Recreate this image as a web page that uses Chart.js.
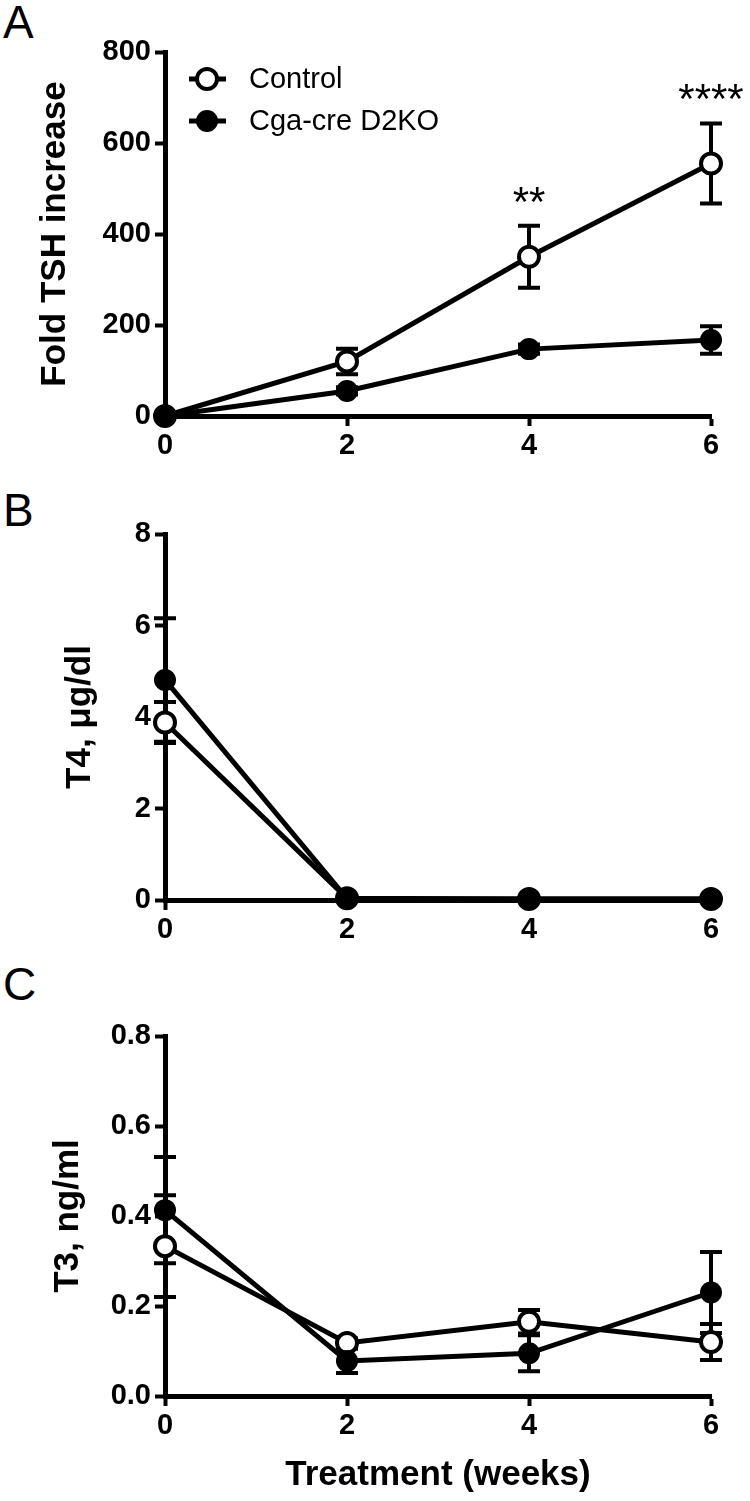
<!DOCTYPE html>
<html>
<head>
<meta charset="utf-8">
<script src="https://cdn.jsdelivr.net/npm/chart.js@4.4.1/dist/chart.umd.min.js"></script>
<style>
  body { margin: 0; background: #fff; width: 750px; height: 1501px; position: relative; overflow: hidden; font-family: 'Liberation Sans', Arial, sans-serif; }
  canvas { position: absolute; left: 0; }
  .panel { position: absolute; left: 3px; font-size: 46px; line-height: 1; color: #000; }
</style>
</head>
<body>
<div class="panel" style="top:-1px">A</div>
<div class="panel" style="top:487px">B</div>
<div class="panel" style="top:961px">C</div>
<canvas id="chartA" width="750" height="470" style="top:0"></canvas>
<canvas id="chartB" width="750" height="480" style="top:470px"></canvas>
<canvas id="chartC" width="750" height="551" style="top:950px"></canvas>
<script>
const FONT = "'Liberation Sans', Arial, sans-serif";
Chart.defaults.font.family = FONT;
Chart.defaults.color = '#000';

// data (mean and SEM per week)
const weeks = [0, 2, 4, 6];
const seriesNames = ['Control', 'Cga-cre D2KO'];

const tshControl = [0, 120, 350, 555];
const tshControlErr = [0, 28, 68, 88];
const tshKO = [0, 55, 147, 167];
const tshKOErr = [0, 8, 10, 30];
const tshStars = ['', '', '**', '****'];

const t4Control = [3.88, 0.04, 0.02, 0.02];
const t4ControlErr = [0.45, 0.02, 0.01, 0.01];
const t4KO = [4.81, 0.03, 0.02, 0.02];
const t4KOErr = [1.35, 0.02, 0.01, 0.01];

const t3Control = [0.333, 0.118, 0.165, 0.12];
const t3ControlErr = [0.113, 0.01, 0.026, 0.04];
const t3KO = [0.413, 0.078, 0.095, 0.23];
const t3KOErr = [0.118, 0.027, 0.04, 0.09];

function pts(ys) {
    return weeks.map((w, i) => ({ x: w, y: ys[i] }));
}

function series(ctrl, ctrlErr, ko, koErr) {
    const common = { borderColor: '#000', borderWidth: 5, tension: 0, clip: false, pointBorderColor: '#000', pointHoverRadius: 0 };
    return [
        Object.assign({ label: seriesNames[0], data: pts(ctrl), errors: ctrlErr, order: 2,
            pointRadius: 10, pointBorderWidth: 4, pointBackgroundColor: '#fff' }, common),
        Object.assign({ label: seriesNames[1], data: pts(ko), errors: koErr, order: 1,
            pointRadius: 11, pointBorderWidth: 0, pointBackgroundColor: '#000' }, common)
    ];
}

// vertical SEM bars with caps, drawn under the markers
const errorBars = {
    id: 'errorBars',
    beforeDatasetsDraw(chart) {
        const { ctx, scales: { x, y } } = chart;
        ctx.save();
        ctx.strokeStyle = '#000';
        ctx.lineWidth = 4;
        chart.data.datasets.forEach(ds => {
            ds.data.forEach((p, i) => {
                const e = ds.errors[i];
                if (!e) return;
                const px = x.getPixelForValue(p.x);
                const top = y.getPixelForValue(p.y + e);
                const bot = y.getPixelForValue(p.y - e);
                ctx.beginPath();
                ctx.moveTo(px, top); ctx.lineTo(px, bot);
                ctx.moveTo(px - 11, top); ctx.lineTo(px + 11, top);
                ctx.moveTo(px - 11, bot); ctx.lineTo(px + 11, bot);
                ctx.stroke();
            });
        });
        ctx.restore();
    }
};

// significance stars above the control error bars (panel A only)
const stars = {
    id: 'stars',
    afterDatasetsDraw(chart) {
        const { ctx, scales: { x, y } } = chart;
        ctx.save();
        ctx.font = '42px ' + FONT;
        ctx.fillStyle = '#000';
        ctx.textAlign = 'center';
        ctx.textBaseline = 'alphabetic';
        tshStars.forEach((s, i) => {
            if (!s) return;
            const px = x.getPixelForValue(weeks[i]);
            const py = y.getPixelForValue(tshControl[i] + tshControlErr[i]);
            ctx.fillText(s, px, py - 10);
        });
        ctx.restore();
    }
};

// legend drawn inside the plot, line + marker like the original
const legendBox = {
    id: 'legendBox',
    afterDraw(chart) {
        const ctx = chart.ctx;
        const rows = [79, 121];
        ctx.save();
        chart.data.datasets.forEach((ds, i) => {
            const yy = rows[i];
            ctx.strokeStyle = '#000';
            ctx.lineWidth = 5;
            ctx.beginPath();
            ctx.moveTo(189, yy); ctx.lineTo(226, yy);
            ctx.stroke();
            ctx.beginPath();
            ctx.arc(207, yy, ds.pointRadius, 0, Math.PI * 2);
            ctx.fillStyle = ds.pointBackgroundColor;
            ctx.fill();
            if (ds.pointBorderWidth) {
                ctx.lineWidth = ds.pointBorderWidth;
                ctx.stroke();
            }
            ctx.fillStyle = '#000';
            ctx.font = '29px ' + FONT;
            ctx.textAlign = 'left';
            ctx.textBaseline = 'middle';
            ctx.fillText(ds.label, 249, yy + 1);
        });
        ctx.restore();
    }
};

function axisStyle() {
    return {
        grid: { display: true, drawOnChartArea: false, drawTicks: true, tickLength: 10, tickWidth: 4, tickColor: '#000', color: '#000' },
        border: { display: true, color: '#000', width: 5 }
    };
}

function options(o) {
    return {
        responsive: false,
        animation: false,
        devicePixelRatio: 1,
        events: [],
        layout: { padding: { left: o.padLeft, top: o.padTop, right: 39, bottom: 0 } },
        plugins: { legend: { display: false }, tooltip: { enabled: false } },
        scales: {
            x: Object.assign({
                type: 'linear', min: 0, max: 6,
                afterFit: s => { s.height = o.xHeight; },
                ticks: { stepSize: 2, padding: 3, font: { size: 29, weight: 'bold' }, color: '#000' },
                title: { display: !!o.xTitle, text: o.xTitle || '', font: { size: 35, weight: 'bold' }, color: '#000', padding: { top: 0, bottom: 5 } }
            }, axisStyle()),
            y: Object.assign({
                type: 'linear', min: 0, max: o.yMax,
                afterFit: s => { s.width = 165 - o.padLeft; },
                ticks: { stepSize: o.yStep, padding: 4, font: { size: 29, weight: 'bold' }, color: '#000',
                    callback: o.yFmt || (v => v) },
                title: { display: true, text: o.yTitle, font: { size: 35, weight: 'bold' }, color: '#000', padding: 0 }
            }, axisStyle())
        }
    };
}

new Chart(document.getElementById('chartA'), {
    type: 'line',
    data: { datasets: series(tshControl, tshControlErr, tshKO, tshKOErr) },
    options: options({ padLeft: 34, padTop: 52, xHeight: 54, yMax: 800, yStep: 200, yTitle: 'Fold TSH increase' }),
    plugins: [errorBars, stars, legendBox]
});

new Chart(document.getElementById('chartB'), {
    type: 'line',
    data: { datasets: series(t4Control, t4ControlErr, t4KO, t4KOErr) },
    options: options({ padLeft: 59, padTop: 64, xHeight: 50, yMax: 8, yStep: 2, yTitle: 'T4, μg/dl' }),
    plugins: [errorBars]
});

new Chart(document.getElementById('chartC'), {
    type: 'line',
    data: { datasets: series(t3Control, t3ControlErr, t3KO, t3KOErr) },
    options: options({ padLeft: 47, padTop: 86, xHeight: 105, yMax: 0.8, yStep: 0.2, yTitle: 'T3, ng/ml',
        xTitle: 'Treatment (weeks)', yFmt: v => v.toFixed(1) }),
    plugins: [errorBars]
});
</script>
</body>
</html>
